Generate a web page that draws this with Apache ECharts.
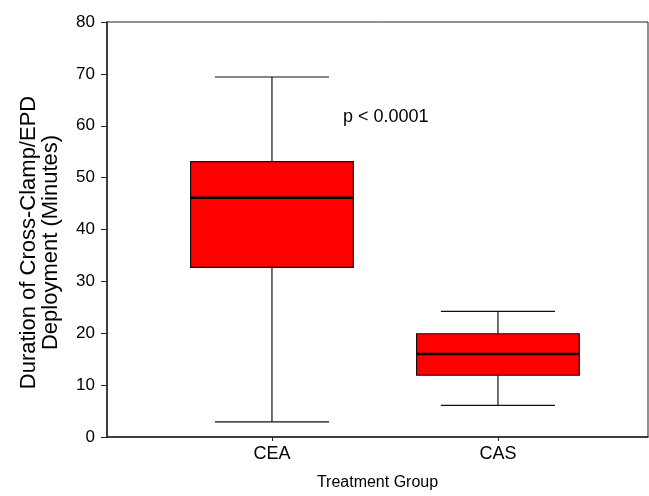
<!DOCTYPE html>
<html>
<head>
<meta charset="utf-8">
<script src="https://cdn.jsdelivr.net/npm/echarts@6/dist/echarts.min.js"></script>
<style>html,body{margin:0;padding:0;background:#fff}#c{width:649px;height:496px}</style>
</head>
<body>
<div id="c"></div>
<script>
const categories = ['CEA', 'CAS'];
const positions = [1, 2];
const lowWhisker = [2.9, 6.1];
const q1 = [32.7, 11.9];
const median = [46.1, 16.0];
const q3 = [53.1, 19.9];
const highWhisker = [69.4, 24.2];
const yTicks = [0, 10, 20, 30, 40, 50, 60, 70, 80];
const annotation = 'p < 0.0001';

const boxData = categories.map((c, i) => [positions[i], lowWhisker[i], q1[i], median[i], q3[i], highWhisker[i]]);

const chart = echarts.init(document.getElementById('c'), null, {renderer: 'canvas'});
const font = 'Liberation Sans, Arial, sans-serif';
chart.setOption({
  animation: false,
  backgroundColor: '#fff',
  grid: {left: 107, right: 1, top: 22, bottom: 58, show: true, borderColor: '#222', borderWidth: 1, backgroundColor: 'transparent'},
  xAxis: {
    type: 'value', min: 0.27, max: 2.664,
    splitLine: {show: false},
    axisLine: {show: true, lineStyle: {color: '#222', width: 1.5}},
    axisTick: {show: true, customValues: positions, length: 4, lineStyle: {color: '#222'}},
    axisLabel: {customValues: positions, formatter: v => categories[positions.indexOf(v)] || '', color: '#000', fontSize: 18, fontFamily: font, margin: 8},
    name: 'Treatment Group', nameLocation: 'middle', nameGap: 38,
    nameTextStyle: {color: '#000', fontSize: 16, fontFamily: font}
  },
  yAxis: {
    type: 'value', min: 0, max: 80, interval: 10,
    splitLine: {show: false},
    axisLine: {show: true, lineStyle: {color: '#222', width: 1.5}},
    axisTick: {show: true, length: 6, lineStyle: {color: '#222'}},
    axisLabel: {color: '#000', fontSize: 17, fontFamily: font, margin: 12},
    name: 'Duration of Cross-Clamp/EPD\nDeployment (Minutes)', nameLocation: 'middle', nameGap: 45,
    nameTextStyle: {color: '#000', fontSize: 22, fontFamily: font, lineHeight: 22, padding: [0, 26, 0, 0]}
  },
  graphic: [{type: 'text', left: 343, top: 108, style: {text: annotation, fontSize: 18, fontFamily: font, fill: '#000'}}],
  series: [{
    type: 'custom',
    data: boxData,
    renderItem: function (params, api) {
      const x = api.value(0);
      const lo = api.coord([x, api.value(1)]);
      const b1 = api.coord([x, api.value(2)]);
      const md = api.coord([x, api.value(3)]);
      const b3 = api.coord([x, api.value(4)]);
      const hi = api.coord([x, api.value(5)]);
      const bw = api.size([0.72, 0])[0];
      const cw = api.size([0.505, 0])[0];
      const cx = lo[0];
      const ls = {stroke: '#111', lineWidth: 1.2};
      return {type: 'group', children: [
        {type: 'line', shape: {x1: cx, y1: hi[1], x2: cx, y2: b3[1]}, style: ls},
        {type: 'line', shape: {x1: cx, y1: b1[1], x2: cx, y2: lo[1]}, style: ls},
        {type: 'line', shape: {x1: cx - cw / 2, y1: hi[1], x2: cx + cw / 2, y2: hi[1]}, style: ls},
        {type: 'line', shape: {x1: cx - cw / 2, y1: lo[1], x2: cx + cw / 2, y2: lo[1]}, style: ls},
        {type: 'rect', shape: {x: cx - bw / 2, y: b3[1], width: bw, height: b1[1] - b3[1]}, style: {fill: '#ff0000', stroke: '#111', lineWidth: 1.2}},
        {type: 'line', shape: {x1: cx - bw / 2, y1: md[1], x2: cx + bw / 2, y2: md[1]}, style: {stroke: '#000', lineWidth: 2.5}}
      ]};
    }
  }]
});
</script>
</body>
</html>
